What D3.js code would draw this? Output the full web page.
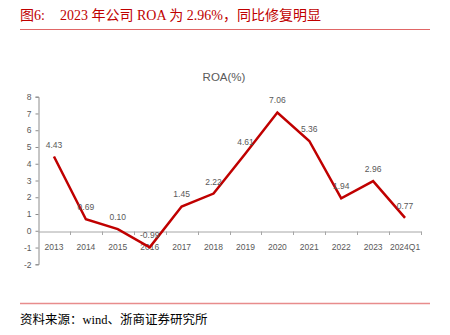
<!DOCTYPE html>
<html><head><meta charset="utf-8">
<script src="https://cdn.jsdelivr.net/npm/d3@7"></script>
<style>body{margin:0;background:#fff;}svg{display:block;}</style>
</head><body>
<script>
const categories = ["2013","2014","2015","2016","2017","2018","2019","2020","2021","2022","2023","2024Q1"];
const roa = [4.43, 0.69, 0.10, -0.99, 1.45, 2.22, 4.61, 7.06, 5.36, 1.94, 2.96, 0.77];
const yTicks = [-2,-1,0,1,2,3,4,5,6,7,8];

const W = 450, H = 335;
const svg = d3.select("body").append("svg").attr("width", W).attr("height", H);
const sans = "'Liberation Sans', Arial, 'Noto Sans CJK SC', sans-serif";
const serif = "'Liberation Serif', 'Times New Roman', 'Noto Sans CJK SC', serif";

// Header
svg.append("text").attr("x", 20).attr("y", 20).attr("fill", "#c00000")
  .style("font-family", serif).style("font-size", "14px").text("图6:");
svg.append("text").attr("x", 60).attr("y", 20).attr("fill", "#c00000")
  .style("font-family", serif).style("font-size", "14px").text("2023 年公司 ROA 为 2.96%，同比修复明显");
svg.append("line").attr("x1", 20).attr("x2", 430).attr("y1", 29.5).attr("y2", 29.5)
  .attr("stroke", "#e06666").attr("stroke-width", 1);

// Footer
svg.append("line").attr("x1", 20).attr("x2", 430).attr("y1", 303.5).attr("y2", 303.5)
  .attr("stroke", "#e88c8c").attr("stroke-width", 1.5);
svg.append("text").attr("x", 20).attr("y", 324).attr("fill", "#000")
  .style("font-family", serif).style("font-size", "12.5px").text("资料来源：wind、浙商证券研究所");

// Chart title
svg.append("text").attr("x", 224).attr("y", 80.5).attr("text-anchor", "middle")
  .attr("fill", "#595959").style("font-family", sans).style("font-size", "11.5px").text("ROA(%)");

const x = d3.scaleBand().domain(categories).range([38, 421]);
const y = d3.scaleLinear().domain([-2, 8]).range([264.3, 96.7]);

// Y axis
const yAxis = d3.axisLeft(y).tickValues(yTicks).tickSize(3).tickPadding(4).tickFormat(d => String(d));
const gy = svg.append("g").attr("transform", "translate(38.5,0)").call(yAxis);
gy.selectAll("path,line").attr("stroke", "#8c8c8c");
gy.selectAll("text").attr("fill", "#595959").style("font-family", sans).style("font-size", "8.5px");

// X axis at zero
const gx = svg.append("g").attr("transform", `translate(0,${Math.round(y(0)) + 0.5})`)
  .call(d3.axisBottom(x).tickSize(0).tickPadding(12));
gx.select("path").attr("stroke", "#a6a6a6");
gx.selectAll("text").attr("fill", "#595959").style("font-family", sans).style("font-size", "8.5px");
// boundary ticks
const bounds = categories.map(c => x(c)).concat([x.range()[1]]);
gx.selectAll("line.bt").data(bounds.slice(1)).join("line").attr("class", "bt")
  .attr("x1", d => Math.round(d) + 0.5).attr("x2", d => Math.round(d) + 0.5)
  .attr("y1", 0).attr("y2", 3.5).attr("stroke", "#a6a6a6");

// Line
const cx = d => x(d) + x.bandwidth() / 2;
const line = d3.line().x((d, i) => cx(categories[i])).y(d => y(d));
svg.append("path").datum(roa).attr("d", line).attr("fill", "none")
  .attr("stroke", "#c00000").attr("stroke-width", 2.5).attr("stroke-linejoin", "miter");

// Data labels
svg.selectAll("text.lbl").data(roa).join("text").attr("class", "lbl")
  .attr("x", (d, i) => cx(categories[i])).attr("y", d => y(d) - 9)
  .attr("text-anchor", "middle").attr("fill", "#595959")
  .style("font-family", sans).style("font-size", "8.5px").text(d => d.toFixed(2));
</script>
</body></html>
